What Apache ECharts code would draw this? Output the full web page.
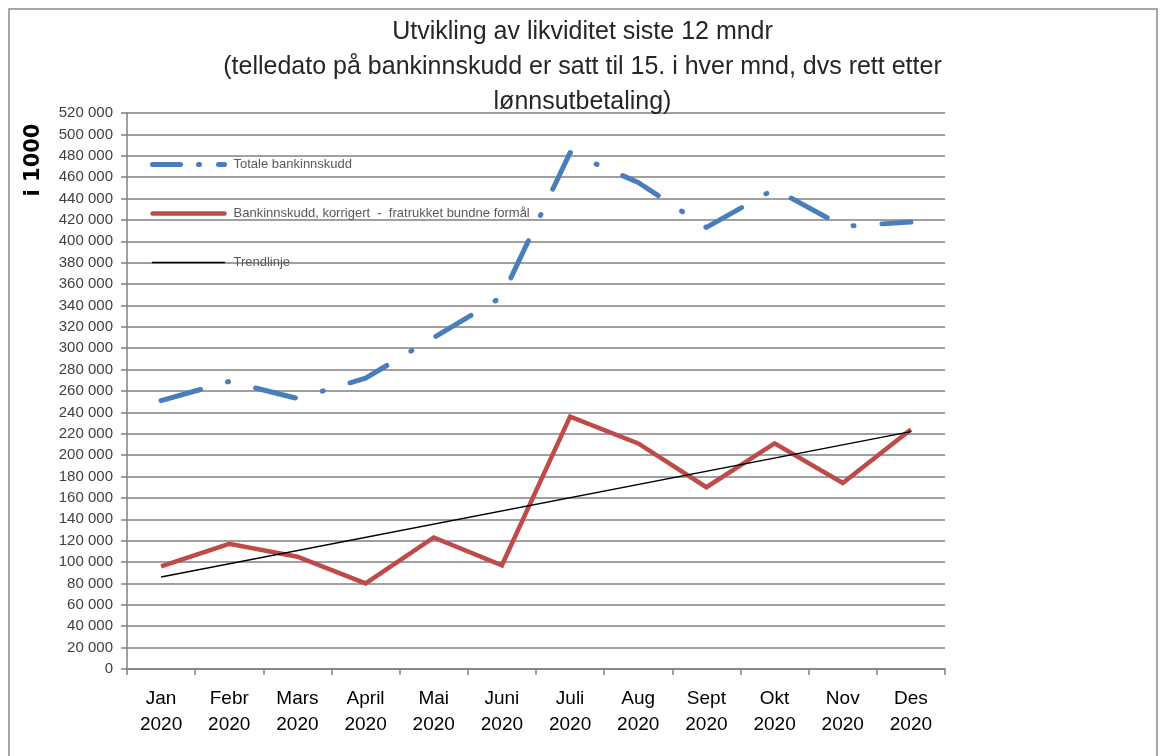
<!DOCTYPE html>
<html>
<head>
<meta charset="utf-8">
<script src="https://cdn.jsdelivr.net/npm/echarts@6/dist/echarts.min.js"></script>
<style>
  html, body { margin: 0; padding: 0; background: #fff; }
  #likviditet_chart { width: 1165px; height: 756px; }
</style>
</head>
<body>
<div id="likviditet_chart"></div>
<script>
  // maneder (kategoriaksen)
  let months = ['Jan\n2020', 'Febr\n2020', 'Mars\n2020', 'April\n2020', 'Mai\n2020', 'Juni\n2020',
    'Juli\n2020', 'Aug\n2020', 'Sept\n2020', 'Okt\n2020', 'Nov\n2020', 'Des\n2020']

  // i 1000 kr
  let totaleBankinnskudd = [251000, 269000, 253000, 272000, 310000, 348000, 483000, 455000, 413000, 449000, 414000, 418000]
  let korrigert = [96000, 117000, 105000, 80000, 123000, 97000, 236000, 211000, 170000, 211000, 174000, 224000]
  // trendlinje: bare endepunktene lest av bildet
  let trendlinje = [86000, null, null, null, null, null, null, null, null, null, null, 222000]

  let titleLines = [
    'Utvikling av likviditet siste 12 mndr',
    '(telledato på bankinnskudd er satt til 15. i hver mnd, dvs rett etter',
    'lønnsutbetaling)'
  ]

  let chart = echarts.init(document.getElementById('likviditet_chart'))
  let option = {
    animation: false,
    title: {
      left: 'center',
      top: 10,
      text: titleLines.join('\n'),
      textStyle: {
        color: '#262626',
        fontFamily: 'Liberation Sans',
        fontWeight: 'normal',
        fontSize: 25,
        lineHeight: 35
      }
    },
    graphic: [{
      type: 'rect',
      shape: { x: 9, y: 9, width: 1148, height: 760 },
      style: { fill: 'none', stroke: '#8a8a8a', lineWidth: 1.5 },
      silent: true
    }, {
      type: 'text',
      x: 23,
      y: 160,
      rotation: Math.PI / 2,
      style: {
        text: 'i 1000',
        fill: '#000',
        font: 'bold 21px "DejaVu Sans"',
        align: 'center',
        verticalAlign: 'top'
      }
    }],
    legend: {
      orient: 'vertical',
      left: 145,
      top: 153,
      itemWidth: 72,
      itemHeight: 14,
      itemGap: 36,
      lineStyle: { width: 'inherit', type: 'inherit', cap: 'round' },
      itemStyle: { opacity: 0 },
      textStyle: {
        color: '#595959',
        fontFamily: 'Liberation Sans',
        fontSize: 13,
        padding: [0, 0, 0, 4]
      },
      data: [
        { name: 'Totale bankinnskudd', lineStyle: { type: [28, 18, 1, 19] } },
        'Bankinnskudd, korrigert  -  fratrukket bundne formål',
        'Trendlinje'
      ]
    },
    grid: {
      left: 127,
      top: 113,
      width: 818,
      height: 556,
      containLabel: false
    },
    xAxis: {
      type: 'category',
      data: months,
      boundaryGap: true,
      axisLine: { lineStyle: { color: '#808080', width: 1.5 } },
      axisTick: { show: true, length: 6, lineStyle: { color: '#808080', width: 1.5 } },
      axisLabel: {
        color: '#000',
        fontFamily: 'Liberation Sans',
        fontSize: 19,
        lineHeight: 26,
        margin: 17,
        interval: 0
      }
    },
    yAxis: {
      type: 'value',
      min: 0,
      max: 520000,
      interval: 20000,
      axisLine: { show: true, lineStyle: { color: '#808080', width: 1.5 } },
      axisTick: { show: true, length: 6, lineStyle: { color: '#808080', width: 1.5 } },
      splitLine: { lineStyle: { color: '#808080', width: 1.5 } },
      axisLabel: {
        color: '#404040',
        fontFamily: 'Liberation Sans',
        fontSize: 15,
        margin: 14,
        formatter: function (v) {
          return String(v).replace(/\B(?=(\d{3})+(?!\d))/g, ' ')
        }
      }
    },
    series: [{
      name: 'Totale bankinnskudd',
      type: 'line',
      data: totaleBankinnskudd,
      symbol: 'none',
      lineStyle: {
        color: '#4a7ebb',
        width: 5,
        type: [41, 28, 1, 28],
        cap: 'round',
        join: 'round'
      },
      itemStyle: { color: '#4a7ebb' }
    }, {
      name: 'Bankinnskudd, korrigert  -  fratrukket bundne formål',
      type: 'line',
      data: korrigert,
      symbol: 'none',
      lineStyle: { color: '#be4b48', width: 4.5, join: 'miter' },
      itemStyle: { color: '#be4b48' }
    }, {
      name: 'Trendlinje',
      type: 'line',
      data: trendlinje,
      connectNulls: true,
      symbol: 'none',
      lineStyle: { color: '#000', width: 1.5 },
      itemStyle: { color: '#000' },
      z: 3
    }]
  }
  chart.setOption(option)
</script>
</body>
</html>
